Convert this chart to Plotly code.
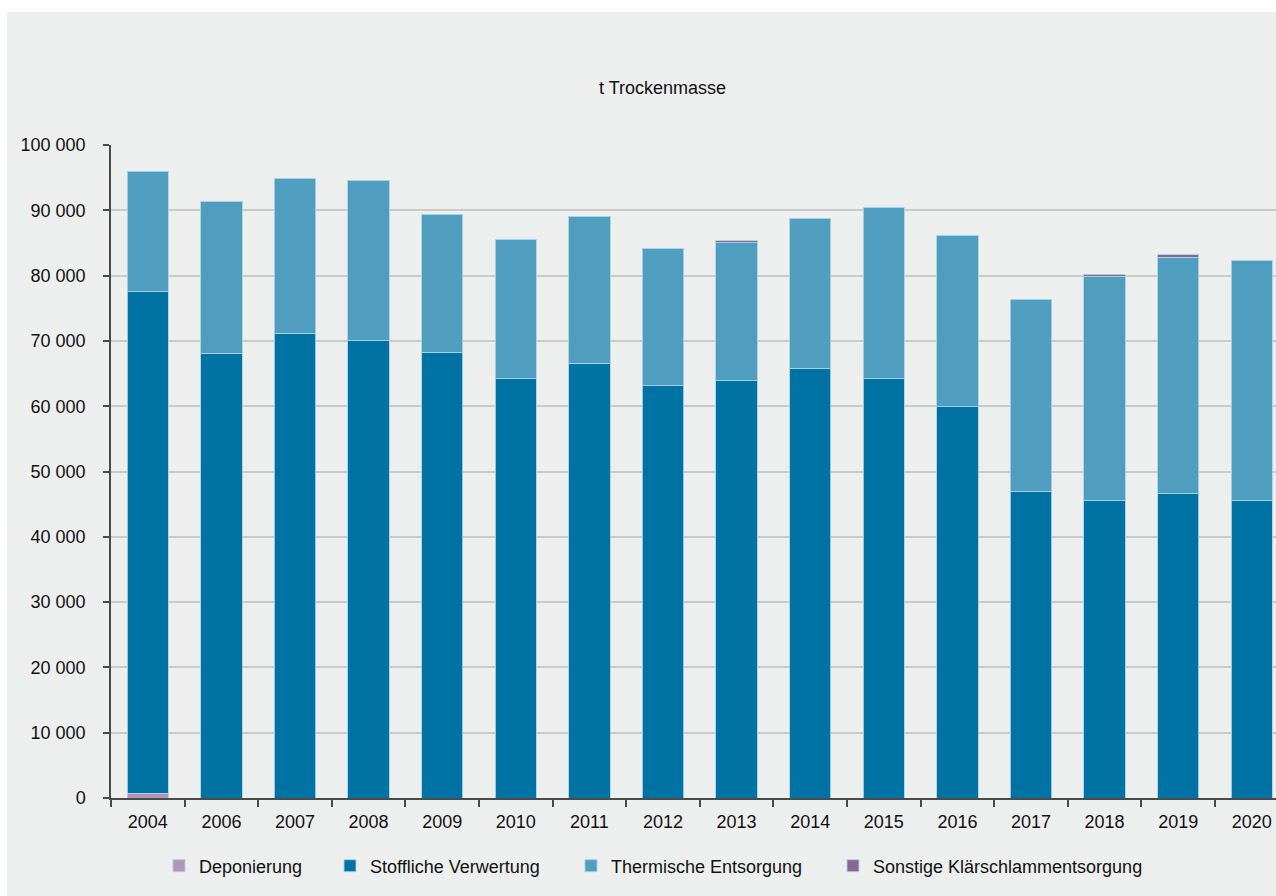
import plotly.graph_objects as go

years = ["2004", "2006", "2007", "2008", "2009", "2010", "2011", "2012",
         "2013", "2014", "2015", "2016", "2017", "2018", "2019", "2020"]
deponierung = [700, 0, 0, 0, 0, 0, 0, 0, 0, 0, 0, 0, 0, 0, 0, 0]
stoffliche = [76800, 68100, 71200, 70000, 68300, 64200, 66600, 63100,
              63900, 65800, 64200, 59900, 46900, 45500, 46600, 45500]
thermische = [18500, 23300, 23600, 24600, 21000, 21300, 22500, 21100,
              21100, 22900, 26200, 26200, 29500, 34400, 36200, 36800]
sonstige = [0, 0, 0, 0, 0, 0, 0, 0, 300, 0, 0, 0, 0, 300, 400, 0]

series_names = ["Deponierung", "Stoffliche Verwertung",
                "Thermische Entsorgung", "Sonstige Klärschlammentsorgung"]
series_values = [deponierung, stoffliche, thermische, sonstige]
series_colors = ["#B393B8", "#0072A3", "#4F9EC0", "#8D6592"]
legend_ids = ["legend", "legend2", "legend3", "legend4"]
# symbol centres in the reference (page pixels)
legend_sym_px = [184, 355, 596, 858]

FONT = "Liberation Sans, Arial, sans-serif"
BG = "#EDEFEE"

W, H = 1276, 896
L = 111
T = 145
B = H - 798
R = 0
pw = W - L - R
ph = H - T - B

fig = go.Figure()
for name, vals, col, lid in zip(series_names, series_values, series_colors, legend_ids):
    fig.add_trace(go.Bar(
        x=years, y=vals, name=name, legend=lid,
        marker=dict(color=col, line=dict(color="rgba(170,210,228,0.9)", width=1)),
    ))

legend_common = dict(
    orientation="h", yanchor="middle", xanchor="left",
    y=-(866 - 798) / ph, bgcolor="rgba(0,0,0,0)",
    font=dict(family=FONT, size=18, color="#111111"),
    itemwidth=30, tracegroupgap=0,
)
legends = {}
for lid, px in zip(legend_ids, legend_sym_px):
    legends[lid] = dict(legend_common, x=(px - 25 - L) / pw)

pitch = 73.6
xmax = -0.5 + pw / pitch

fig.update_layout(
    width=W, height=H,
    margin=dict(l=L, r=R, t=T, b=B, pad=0),
    barmode="stack", bargap=0.44,
    paper_bgcolor=BG, plot_bgcolor=BG,
    separators=", ",
    font=dict(family=FONT, size=18, color="#111111"),
    showlegend=True,
    **legends,
    xaxis=dict(
        type="category", range=[-0.5, xmax], tickson="boundaries",
        ticks="outside", ticklen=7, tickcolor="#4a4a4a", tickwidth=1.5,
        showline=True, linecolor="#4a4a4a", linewidth=1.5,
        showgrid=False, zeroline=False,
        tickfont=dict(family=FONT, size=18, color="#111111"),
        ticklabelstandoff=7,
    ),
    yaxis=dict(
        range=[0, 100000], tickvals=list(range(0, 100001, 10000)),
        tickformat=",d",
        ticks="outside", ticklen=6, tickcolor="#4a4a4a", tickwidth=1.5,
        showline=True, linecolor="#4a4a4a", linewidth=1.5,
        showgrid=True, gridcolor="#C8C9C9", gridwidth=1.5,
        zeroline=False,
        tickfont=dict(family=FONT, size=18, color="#111111"),
        ticklabelstandoff=14,
    ),
    annotations=[dict(
        text="t Trockenmasse", xref="paper", yref="paper",
        x=(662 - L) / pw, y=1 + (T - 88) / ph,
        xanchor="center", yanchor="middle", showarrow=False,
        font=dict(family=FONT, size=18, color="#111111"),
    )],
    shapes=[
        dict(type="rect", xref="paper", yref="paper", layer="below",
             x0=-0.2, x1=1.1, y0=1 + (T - 12) / ph, y1=1.4,
             fillcolor="white", line=dict(width=0)),
        dict(type="rect", xref="paper", yref="paper", layer="below",
             x0=-0.2, x1=(7 - L) / pw, y0=-0.3, y1=1.4,
             fillcolor="white", line=dict(width=0)),
    ],
)

fig.write_html(
    "out.html",
    config={"displayModeBar": False},
    post_script="document.body.style.margin='0';document.body.style.overflow='hidden';",
)
